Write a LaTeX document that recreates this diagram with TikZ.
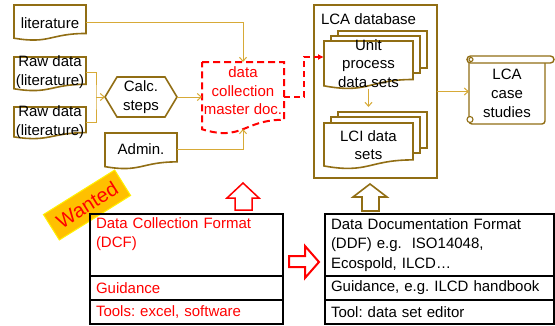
\documentclass[tikz,border=0pt]{standalone}
\usepackage{fontspec}
\setmainfont{Liberation Sans}
\usetikzlibrary{arrows.meta}
\definecolor{docbrown}{RGB}{145,110,20}
\definecolor{conngold}{RGB}{215,170,55}
\definecolor{wantorange}{RGB}{255,192,0}
\newcommand\mydocpath[5][]{%
  \draw[#1] (#2,#3) -- (#4,#3) -- (#4,{#3+0.802*(#5-#3)})
    .. controls ({(#2+#4)/2},{#3+0.802*(#5-#3)}) and ({(#2+#4)/2},{#3+1.107*(#5-#3)}) .. (#2,{#3+0.934*(#5-#3)}) -- cycle;}
\frenchspacing
\begin{document}
\begin{tikzpicture}[x=1pt,y=-1pt,
  every node/.style={font=\fontsize{15}{18.5}\selectfont\frenchspacing, inner sep=0pt, outer sep=0pt},
  boxline/.style={draw=docbrown, line width=1.6pt, fill=white},
  conn/.style={draw=conngold, line width=1pt, -{Straight Barb[length=4pt,width=7pt]}},
  conline/.style={draw=conngold, line width=1pt},
  tabcell/.style={draw=black, line width=1.2pt, anchor=north west, inner xsep=6pt, inner ysep=0pt, align=left, text width=#1, font=\fontsize{15}{19.5}\selectfont\frenchspacing},
  blockred/.style={draw=red, line width=1.6pt, fill=white},
  blockbrown/.style={draw=docbrown, line width=1.6pt, fill=white}]
\fill[white] (0,0) rectangle (555,325);
\useasboundingbox (0,0) rectangle (555,325);

% literature
\mydocpath[boxline]{14}{5}{86}{40.5}
\node[minimum width=72pt, minimum height=35.5pt] (lit) at (50,22.75) {literature};
% raw data
\mydocpath[boxline]{14}{57}{86}{91}
\node[minimum width=72pt, minimum height=34pt, align=center] (raw1) at (50,72) {Raw data\\(literature)};
\mydocpath[boxline]{14}{107}{86}{139}
\node[minimum width=72pt, minimum height=32pt, align=center] (raw2) at (50,122) {Raw data\\(literature)};
% calc steps
\node[minimum width=72pt, minimum height=40pt, align=center] (calc) at (141,97) {Calc.\\steps};
\draw[docbrown, line width=1.6pt] (calc.west) -- ([xshift=12pt]calc.north west) -- ([xshift=-12pt]calc.north east) -- (calc.east) -- ([xshift=-12pt]calc.south east) -- ([xshift=12pt]calc.south west) -- cycle;
% admin
\mydocpath[boxline]{105}{133}{177}{169}
\node[minimum width=72pt, minimum height=34pt] (admin) at (141,149) {Admin.};
% master doc
\mydocpath[draw=red, line width=2pt, dash pattern=on 7pt off 4pt, fill=white]{202}{62}{284}{134}
\node[minimum width=82pt, minimum height=70pt] (master) at (243,97) {};
\node[align=center, text=red] (mastertxt) at (243,91) {data\\collection\\master doc.};

% LCA database
\node[boxline, minimum width=123pt, minimum height=173pt] (db) at (375.5,91.5) {};
\node[anchor=west] (dbl) at (321,19) {LCA database};
% unit process stack
\node[boxline, minimum width=89pt, minimum height=37pt] (unitB) at (382.5,49.5) {};
\node[boxline, minimum width=89pt, minimum height=37pt] (unitM) at (375.5,54.5) {};
\mydocpath[boxline]{324}{41}{413}{89}
\node[minimum width=89pt, minimum height=47pt, align=center] (unit) at (368.5,63.5) {Unit\\process\\data sets};
% LCI stack
\node[boxline, minimum width=89pt, minimum height=36pt] (lciB) at (382.5,130) {};
\node[boxline, minimum width=89pt, minimum height=36pt] (lciM) at (375.5,135) {};
\mydocpath[boxline]{324}{123}{413}{169}
\node[minimum width=89pt, minimum height=46pt, align=center] (lci) at (368.5,145) {LCI data\\sets};

% scroll
\draw[docbrown, line width=1.4pt, fill=white, rounded corners=3pt] (469,59) -- (469,124) -- (545,124) -- (545,62);
\draw[docbrown, line width=1.4pt, fill=white, rounded corners=3.5pt] (467,56) rectangle (554,63);
\draw[docbrown, line width=1.1pt] (471,59.5) circle (2pt);
\draw[docbrown, line width=1.1pt, fill=white] (470,119.5) circle (3pt);
\node[minimum width=76pt, minimum height=62pt, align=center, font=\fontsize{15}{19}\selectfont] (scroll) at (507,93) {LCA\\case\\studies};

% connectors
\coordinate (rj) at (96,97);
\draw[conline] (raw1.east) -| (rj) |- (raw2.east);
\draw[conn] (rj) -- (calc.west);
\draw[conn] (lit.east) -| (master.north);
\draw[conn] (calc.east) -- (master.west);
\coordinate (mwave) at ([yshift=3pt]master.south);
\draw[conn] (admin.east) -| (mwave);
\draw[draw=red, line width=1.6pt, dash pattern=on 6pt off 4pt, -{Latex[length=6pt,width=6pt]}] (master.east) -- ++(20,0) |- ([yshift=6.5pt]unit.west);
\coordinate (lciTop) at (unit.south |- lciB.north);
\draw[conn] ([yshift=-1pt]unit.south) -- ([yshift=5pt]lciTop);
\draw[conn] (db.east) -- (db.east -| scroll.west);

% wanted label
\node[fill=wantorange, draw=yellow, line width=1pt, minimum width=84pt, minimum height=30pt, rotate=32, text=red, font=\fontsize{20}{24}\selectfont] (wanted) at (87,205) {Wanted};

% block arrows
\draw[blockred, line width=1.5pt] (243,183) -- (259,198) -- (252,198) -- (252,210) -- (235,210) -- (235,198) -- (227,198) -- cycle;
\draw[blockbrown] (370,184) -- (387,197) -- (379,197) -- (379,211) -- (362,211) -- (362,197) -- (353,197) -- cycle;
\draw[blockred, line width=2pt] (289,256) -- (305,256) -- (305,246) -- (319,262) -- (305,278) -- (305,267) -- (289,267) -- cycle;

% tables
\node[tabcell=181pt, minimum height=62pt, text=red] (dcf) at (90,214) {Data Collection Format\\(DCF)\\\strut};
\node[tabcell=181pt, minimum height=24pt, text=red] (guid1) at (dcf.south west) {Guidance};
\node[tabcell=181pt, minimum height=24pt, text=red] (tools1) at (guid1.south west) {Tools: excel, software};
\node[tabcell=217pt, minimum height=62pt] (ddf) at (325,214) {Data Documentation Format\\(DDF) e.g.\ \ ISO14048,\\Ecospold, ILCD…};
\node[tabcell=217pt, minimum height=24pt] (guid2) at (ddf.south west) {Guidance, e.g. ILCD handbook};
\node[tabcell=217pt, minimum height=24pt] (tool2) at (guid2.south west) {Tool: data set editor};
\end{tikzpicture}
\end{document}
